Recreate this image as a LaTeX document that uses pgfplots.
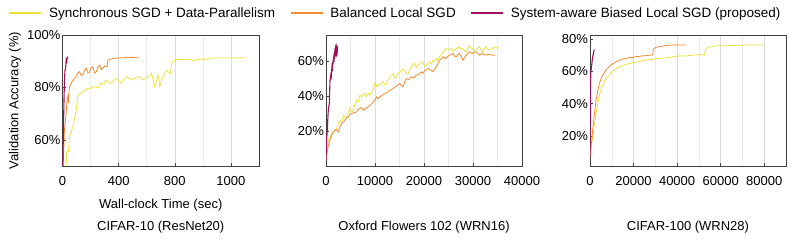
\documentclass[border=0pt]{standalone}
\usepackage{fontspec}
\setmainfont{Liberation Sans}
\usepackage{pgfplots}
\pgfplotsset{compat=1.18}
\definecolor{cyel}{RGB}{236,226,60}
\definecolor{corg}{RGB}{243,138,48}
\definecolor{cpur}{RGB}{162,16,92}
\newcommand{\fs}{\fontsize{13bp}{15bp}\selectfont}
\newcommand{\fl}{\fontsize{13.5bp}{15bp}\selectfont}
\pgfplotsset{
  myax/.style={
    scale only axis, height=131bp,
    axis line style={draw=black!75},
    tick align=inside, xtick pos=left, ytick pos=left,
    major tick length=3bp, minor tick length=0pt,
    tick style={black!75, line width=0.5bp},
    xmajorgrids, xminorgrids,
    major grid style={black!14, line width=0.5bp},
    minor grid style={black!8, line width=0.5bp},
    font=\fs, tick label style={font=\fs},
    /pgf/number format/assume math mode=true,
    /pgf/number format/1000 sep={},
    scaled x ticks=false,
    yticklabel={\pgfmathprintnumber{\tick}\%},
    xticklabel style={yshift=-7bp},
    yticklabel style={xshift=1.5bp},
    title style={at={(axis description cs:0.5,-0.516)}, anchor=center, yshift=0pt, font=\fs},
    every axis plot/.append style={line width=0.8bp},
  }
}
\begin{document}
\begin{tikzpicture}
\path[use as bounding box] (0bp,0bp) rectangle (797bp,242bp);
% ---------- Panel 1 ----------
\begin{axis}[myax, at={(62.5bp,76bp)}, anchor=south west, width=196.5bp,
  xmin=0, xmax=1400, ymin=50, ymax=100,
  xtick={0,400,800,1200}, xticklabels={0,400,800,1000},
  minor xtick={200,600,1000},
  ytick={60,80,100},
  xlabel={Wall-clock Time (sec)},
  xlabel style={at={(axis description cs:0.5,-0.297)}, anchor=center, font=\fs},
  ylabel={Validation Accuracy (\%)},
  ylabel style={at={(axis description cs:-0.242,0.5)}, anchor=center, font=\fs},
  title={CIFAR-10 (ResNet20)},
  legend columns=3,
  legend style={at={(axis description cs:-0.2741,1.168)}, anchor=west, draw=none, fill=none,
    inner sep=0pt, font=\fl, nodes={inner sep=0pt},
    /tikz/every odd column/.append style={column sep=7bp},
    /tikz/every even column/.append style={column sep=15bp}},
  legend image code/.code={\draw[#1, line width=1.2bp] (0bp,0bp) -- (32bp,0bp);},
]
\addplot[cyel] coordinates {(26,50)(30,55.5)(42,55.5)(50,61.2)(62,63)(74,65)(86,68)(98,71.4)(109,76.5)(121,77.5)(133,77.8)(145,78.4)(163,79)(181,79.7)(198,79.5)(216,80.3)(234,80.2)(252,79.7)(264,80.5)(276,81.6)(294,81.2)(312,82.8)(330,82)(348,81.6)(366,82.5)(384,83.5)(401,82.5)(419,81.6)(437,83)(455,84.1)(473,83.5)(491,82.8)(514,83.5)(538,84.1)(556,83.6)(574,82.8)(592,83.5)(609,84.1)(622,84.5)(634,85.4)(645,83)(657,80.3)(669,82.5)(681,84.7)(687,83)(693,80.3)(705,82.5)(716,84.1)(729,85.4)(741,86.5)(752,86)(769,85.4)(776,88.5)(783,89.8)(812,90.7)(850,90.6)(884,90.7)(920,90.5)(943,90.2)(966,90.8)(1038,90.8)(1050,91.2)(1169,91.2)(1240,91.3)(1300,91.3)};
\addlegendentry{Synchronous SGD + Data-Parallelism}
\addplot[corg] coordinates {(2,45)(8,55)(14,63.7)(20,67)(26,70.1)(32,75)(38,76.5)(43,74)(46,78)(50,80.3)(62,81.5)(74,82.8)(86,83.5)(98,84.1)(110,85.5)(121,86)(133,84.5)(145,84.9)(157,86.5)(169,87.3)(181,85.5)(193,86)(204,87.5)(216,87.9)(228,85.5)(241,86)(252,87.8)(264,88.5)(276,86.8)(288,87.3)(300,88.2)(312,87.9)(318,88)(324,90.5)(340,90.8)(371,91.1)(420,91.3)(466,91.5)(545,91.3)};
\addlegendentry{Balanced Local SGD}
\addplot[cpur, line width=1.1bp] coordinates {(0,40)(4,55)(8,68)(11,76)(14,82.8)(18,86.6)(22,87.2)(26,90.5)(30,89.8)(34,91.2)(38,91.7)};
\addlegendentry{System-aware Biased Local SGD (proposed)}
\end{axis}
% ---------- Panel 2 ----------
\begin{axis}[myax, at={(326bp,76bp)}, anchor=south west, width=196bp,
  xmin=0, xmax=40000, ymin=0, ymax=75,
  xtick={0,10000,20000,30000,40000},
  minor xtick={5000,15000,25000,35000},
  ytick={20,40,60},
  title={Oxford Flowers 102 (WRN16)},
]
\addplot[cyel] coordinates {(0,3.3)(474,14.7)(813,16.6)(1150,18)(1490,19.5)(1830,20.5)(2168,21.4)(2507,24)(2846,26.2)(3184,25)(3523,29.1)(3862,28)(4200,27.1)(4539,30.5)(4878,32.9)(5217,31)(5555,31.9)(5894,35)(6233,37.6)(6571,36.5)(6910,40.5)(7250,39.5)(7588,41)(7927,41.5)(8265,39.8)(8604,41.8)(8943,40.5)(9280,42.5)(9620,43.4)(9959,47.2)(10300,45.5)(10640,46.8)(10976,46.2)(11315,47.5)(11653,48.2)(11990,46.5)(12330,47.2)(12670,49.5)(13008,51)(13347,52)(13686,52.9)(14025,50.5)(14363,51)(14700,53)(15040,53.9)(15550,55.5)(16057,54.8)(16400,52.8)(16734,52.9)(17073,55)(17412,56.8)(17750,58)(18089,58.7)(18430,56.5)(18767,57.7)(19275,59)(19783,59.6)(20120,57)(20461,57.7)(20800,59)(21138,59.6)(21480,58.5)(21815,60.6)(22150,59.8)(22493,61.5)(22830,60.5)(23170,62.5)(23510,63.5)(23848,65.3)(24190,66)(24525,67.3)(25030,66.5)(25541,67.3)(25880,65.5)(26219,66.3)(26730,67.5)(27236,68.2)(27575,66.8)(27913,67.3)(28250,66)(28590,65.3)(28930,67)(29268,68.6)(29600,67.5)(29946,67.3)(30285,65.8)(30623,66.3)(30960,67.5)(31301,68.2)(31640,66.5)(31978,65.3)(32320,67)(32656,68.2)(33000,67)(33333,66.3)(33840,67)(34349,68.2)(34800,67.8)(35230,67.3)};
\addplot[corg] coordinates {(0,3.3)(474,11.9)(813,15)(1152,17.6)(1490,19.5)(1829,20.5)(2168,21)(2507,19.5)(2846,22.5)(3184,24.3)(3523,25)(3862,26.2)(4200,27.5)(4539,28.1)(4878,29.5)(5217,30)(5720,30.5)(6233,31)(6570,32.5)(6910,32.9)(7250,33.5)(7588,31.9)(8100,33)(8604,33.8)(9110,35)(9620,36.7)(9960,37.5)(10298,39.6)(10640,38.5)(10976,39.6)(11480,40.5)(11992,41.5)(12500,42)(13008,43.4)(13516,44)(14024,45.3)(14530,46)(15040,47.2)(15380,46)(15718,45.3)(16057,48)(16395,50.1)(16900,49.5)(17412,51)(17920,50.5)(18428,52)(18937,52.5)(19445,53.9)(19780,53)(20122,54.8)(20460,55)(20800,55.8)(21300,55)(21815,53.9)(22150,55.5)(22493,56.8)(22830,58.5)(23170,60.6)(23510,61)(23848,62.5)(24190,62)(24525,61.5)(24860,62.8)(25203,63.4)(25540,63.8)(25880,64.4)(26220,63)(26558,62.5)(26900,63.8)(27236,64.4)(27575,62.5)(27913,60.6)(28250,62)(28590,63.4)(28930,64.5)(29268,65.3)(29600,64.8)(29946,64.4)(30285,65)(30623,65.3)(30960,64.5)(31301,63.4)(31640,64)(31978,64.4)(32320,63.8)(32656,63.4)(33000,63.8)(33333,64)(33940,63.5)(34552,63.4)};
\addplot[cpur, line width=1.1bp] coordinates {(0,3.3)(100,12)(200,18)(271,20.5)(350,26)(450,31)(550,34)(678,35.7)(740,42)(813,49.1)(900,50)(980,52)(1070,51)(1152,54.8)(1220,57)(1300,56)(1380,59.5)(1450,58)(1490,60.6)(1560,62)(1620,59.5)(1680,64)(1740,61.5)(1800,66)(1829,67.3)(1870,63)(1920,68)(1960,64)(2000,69)(2032,69.2)(2070,62.5)(2110,67.5)(2140,63)(2168,68.5)(2200,64.4)(2240,69)(2270,63.5)(2304,68.2)(2330,65)};
\end{axis}
% ---------- Panel 3 ----------
\begin{axis}[myax, at={(590bp,76bp)}, anchor=south west, width=196bp,
  xmin=0, xmax=90000, ymin=1.5, ymax=82.5,
  xtick={0,20000,40000,60000,80000},
  minor xtick={10000,30000,50000,70000},
  ytick={20,40,60,80},
  title={CIFAR-100 (WRN28)},
]
\addplot[cyel] coordinates {(0,7)(1224,19.4)(2754,34)(4284,45.3)(5814,51.5)(7344,55.7)(8874,57.7)(10000,59.5)(11169,60.8)(12300,62)(13464,62.9)(15000,63.6)(16524,64.3)(18000,64.8)(19584,65.4)(21100,65.6)(22644,66)(24200,66.7)(25704,67.1)(27200,67.2)(28764,67.5)(30300,67.9)(31824,68.1)(34100,68.3)(36414,68.7)(38700,69.2)(41004,69.6)(43300,69.5)(45594,69.8)(47500,70.1)(49419,70.2)(51000,70.4)(52479,70)(53244,73.7)(54009,74.9)(55900,75.4)(57834,75.8)(61600,75.8)(65484,76)(69300,76.2)(73134,76.4)(76500,76.3)(80019,76.4)};
\addplot[corg] coordinates {(0,7)(1224,23.6)(2754,42.2)(4284,52.6)(5814,57.7)(7344,60.9)(8500,62.5)(9639,64)(10800,65)(11934,66)(13500,66.8)(14994,67.5)(16500,68)(18054,68.5)(19500,68.6)(21114,69.1)(22600,69.3)(24174,69.6)(25700,69.7)(27234,70)(28764,70.2)(29070,73.7)(30294,74.9)(32500,75.5)(34884,76)(37200,76.2)(39474,76.4)(41600,76.3)(43758,76.4)};
\addplot[cpur, line width=1.1bp] coordinates {(0,7)(100,30)(200,50)(350,58)(500,61)(800,64)(1100,68)(1400,70)(1700,72)(2000,73.5)};
\end{axis}
\end{tikzpicture}
\end{document}
